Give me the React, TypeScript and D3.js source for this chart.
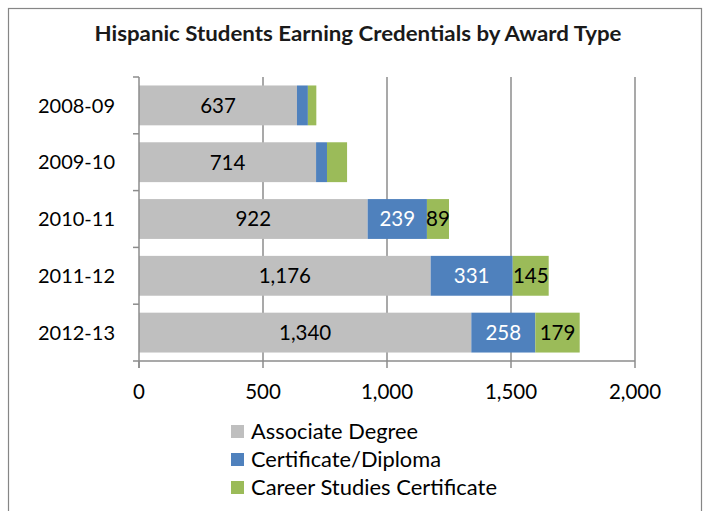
import React from "react";
import * as d3 from "d3";

const years = ["2008-09", "2009-10", "2010-11", "2011-12", "2012-13"];
const associate = [637, 714, 922, 1176, 1340];
const certificate = [44, 44, 239, 331, 258];
const career = [34, 81, 89, 145, 179];
const seriesNames = ["Associate Degree", "Certificate/Diploma", "Career Studies Certificate"];
const legendWidths = [167, 190, 246];
const showCertLabel = [false, false, true, true, true];
const showCareerLabel = [false, false, true, true, true];
const xTicks = [0, 500, 1000, 1500, 2000];

const colors = ["#BFBFBF", "#4F81BD", "#9BBB59"];
const FONT = "Lato, 'Open Sans', sans-serif";

export default function App() {
  const W = 706, H = 511;
  const left = 139, right = 635, top = 77, bottom = 361;
  const x = d3.scaleLinear().domain([0, 2000]).range([left, right]);
  const y = d3.scaleBand().domain(years).range([top, bottom]).paddingInner(17 / 57).paddingOuter(8.5 / 57);
  const bandStep = (bottom - top) / years.length;
  const fmt = d3.format(",");

  const rows = years.map((yr, i) => {
    const vals = [associate[i], certificate[i], career[i]];
    let acc = 0;
    const segs = vals.map((v, k) => {
      const s = { x0: acc, x1: acc + v, v, k };
      acc += v;
      return s;
    });
    return { yr, segs, i };
  });

  return (
    <svg width={W} height={H} style={{ position: "absolute", left: 0, top: 0, background: "#fff" }}>
      <rect x={8.5} y={8.5} width={693} height={520} fill="#fff" stroke="#868686" strokeWidth={1.2} />
      <text x={358} y={41} textAnchor="middle" fontFamily={FONT} fontWeight="bold" fontSize={21} fill="#1a1a1a"
        textLength={527} lengthAdjust="spacingAndGlyphs">
        Hispanic Students Earning Credentials by Award Type
      </text>
      {xTicks.filter((t) => t > 0).map((t) => (
        <line key={t} x1={x(t)} x2={x(t)} y1={top} y2={bottom} stroke="#8c8c8c" strokeWidth={1.5} />
      ))}
      {rows.map((r) =>
        r.segs.map((s) => (
          <rect key={r.yr + s.k} x={x(s.x0)} y={y(r.yr)!} width={x(s.x1) - x(s.x0)} height={y.bandwidth()} fill={colors[s.k]} />
        ))
      )}
      {rows.map((r) =>
        r.segs.map((s) => {
          const show = s.k === 0 || (s.k === 1 && showCertLabel[r.i]) || (s.k === 2 && showCareerLabel[r.i]);
          if (!show) return null;
          return (
            <text key={"l" + r.yr + s.k} x={(x(s.x0) + x(s.x1)) / 2} y={y(r.yr)! + y.bandwidth() / 2} dy="0.36em"
              textAnchor="middle" fontFamily={FONT} fontSize={20.5} fill={s.k === 1 ? "#fff" : "#000"}>
              {fmt(s.v)}
            </text>
          );
        })
      )}
      <line x1={left} x2={left} y1={top} y2={bottom + 7} stroke="#8c8c8c" strokeWidth={1.5} />
      <line x1={left} x2={right} y1={bottom} y2={bottom} stroke="#8c8c8c" strokeWidth={1.5} />
      {d3.range(years.length + 1).map((j) => (
        <line key={"yt" + j} x1={left - 6} x2={left} y1={top + j * bandStep} y2={top + j * bandStep} stroke="#8c8c8c" strokeWidth={1.5} />
      ))}
      {xTicks.map((t) => (
        <g key={"xt" + t}>
          <line x1={x(t)} x2={x(t)} y1={bottom} y2={bottom + 7} stroke="#8c8c8c" strokeWidth={1.5} />
          <text x={x(t)} y={392} dy="0.36em" textAnchor="middle" fontFamily={FONT} fontSize={20.5} fill="#000">
            {fmt(t)}
          </text>
        </g>
      ))}
      {years.map((yr) => (
        <text key={"yl" + yr} x={115} y={y(yr)! + y.bandwidth() / 2} dy="0.36em" textAnchor="end" fontFamily={FONT} fontSize={20} fill="#000">
          {yr}
        </text>
      ))}
      {seriesNames.map((n, k) => (
        <g key={n} transform={`translate(231, ${431 + k * 28})`}>
          <rect x={0} y={-6} width={13} height={13} fill={colors[k]} />
          <text x={20} y={0} dy="0.36em" fontFamily={FONT} fontSize={21} fill="#000"
            textLength={legendWidths[k]} lengthAdjust="spacingAndGlyphs">{n}</text>
        </g>
      ))}
    </svg>
  );
}
